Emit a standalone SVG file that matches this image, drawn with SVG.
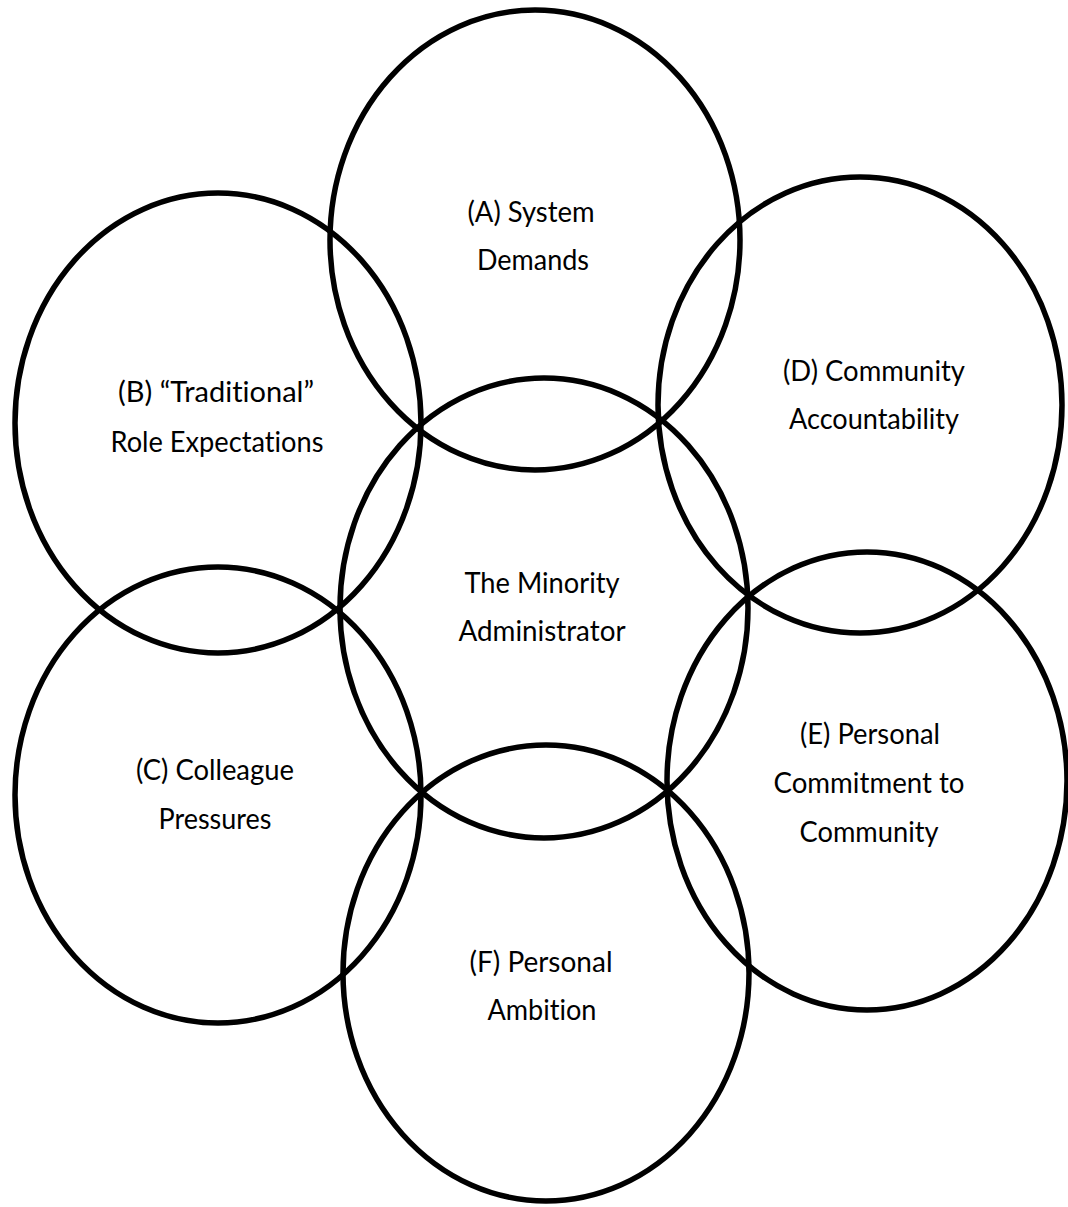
<svg xmlns="http://www.w3.org/2000/svg" width="1068" height="1207" viewBox="0 0 1068 1207">
<style>
.c{fill:none;stroke:#000;stroke-width:5.5}
.t{font-family:Lato,"Open Sans","Liberation Sans",sans-serif;font-size:29px;fill:#000;text-anchor:middle;font-variant-ligatures:none;font-feature-settings:"liga" 0,"dlig" 0}
</style>
<rect width="1068" height="1207" fill="#fff"/>
<g id="A"><ellipse class="c" cx="535" cy="240" rx="205" ry="230"/>
<text class="t" x="531" y="222" textLength="127" lengthAdjust="spacingAndGlyphs">(A) System</text>
<text class="t" x="533" y="270" textLength="112" lengthAdjust="spacingAndGlyphs">Demands</text></g>
<g id="B"><ellipse class="c" cx="218" cy="423" rx="203" ry="230"/>
<text class="t" x="216" y="402" textLength="196" lengthAdjust="spacingAndGlyphs">(B) “Traditional”</text>
<text class="t" x="217" y="452" textLength="213" lengthAdjust="spacingAndGlyphs">Role Expectations</text></g>
<g id="D"><ellipse class="c" cx="860" cy="405" rx="202" ry="228"/>
<text class="t" x="874" y="381" textLength="182" lengthAdjust="spacingAndGlyphs">(D) Community</text>
<text class="t" x="874" y="429" textLength="170" lengthAdjust="spacingAndGlyphs">Accountability</text></g>
<g id="M"><ellipse class="c" cx="544" cy="608" rx="204" ry="230"/>
<text class="t" x="542" y="593" textLength="155" lengthAdjust="spacingAndGlyphs">The Minority</text>
<text class="t" x="542" y="641" textLength="167" lengthAdjust="spacingAndGlyphs">Administrator</text></g>
<g id="C"><ellipse class="c" cx="218" cy="795" rx="203" ry="228"/>
<text class="t" x="215" y="780" textLength="158" lengthAdjust="spacingAndGlyphs">(C) Colleague</text>
<text class="t" x="215" y="829" textLength="113" lengthAdjust="spacingAndGlyphs">Pressures</text></g>
<g id="E"><ellipse class="c" cx="867" cy="781" rx="200" ry="229"/>
<text class="t" x="870" y="744" textLength="140" lengthAdjust="spacingAndGlyphs">(E) Personal</text>
<text class="t" x="869" y="793" textLength="191" lengthAdjust="spacingAndGlyphs">Commitment to</text>
<text class="t" x="869" y="842" textLength="139" lengthAdjust="spacingAndGlyphs">Community</text></g>
<g id="F"><ellipse class="c" cx="546" cy="973" rx="203" ry="228"/>
<text class="t" x="541" y="972" textLength="143" lengthAdjust="spacingAndGlyphs">(F) Personal</text>
<text class="t" x="542" y="1020" textLength="109" lengthAdjust="spacingAndGlyphs">Ambition</text></g>
<g id="connectors"></g>
</svg>
